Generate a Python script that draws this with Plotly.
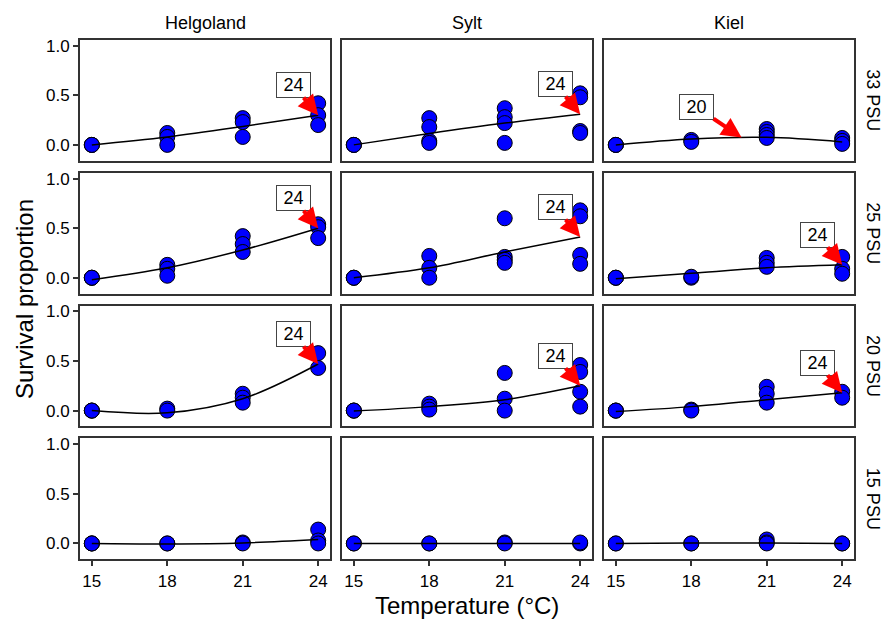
import plotly.graph_objects as go
from plotly.subplots import make_subplots

temps = [15, 18, 21, 24]
sites = ["Helgoland", "Sylt", "Kiel"]
salinities = ["33 PSU", "25 PSU", "20 PSU", "15 PSU"]

# observed survival proportions; one inner list per temperature (15, 18, 21, 24 °C)
helgoland_33 = [[0.0, 0.0, 0.0], [0.12, 0.08, 0.0], [0.27, 0.23, 0.08], [0.42, 0.30, 0.20]]
sylt_33 = [[0.0, 0.0, 0.0], [0.27, 0.18, 0.04, 0.02], [0.37, 0.28, 0.22, 0.02], [0.52, 0.48, 0.14, 0.12]]
kiel_33 = [[0.0, 0.0, 0.0], [0.05, 0.03], [0.16, 0.13, 0.10, 0.07], [0.07, 0.04, 0.01]]
helgoland_25 = [[0.0, 0.0, 0.0], [0.13, 0.09, 0.02], [0.42, 0.34, 0.26], [0.54, 0.51, 0.40]]
sylt_25 = [[0.0, 0.0, 0.0], [0.22, 0.10, 0.0], [0.60, 0.21, 0.18, 0.15], [0.68, 0.62, 0.23, 0.14]]
kiel_25 = [[0.0, 0.0, 0.0], [0.0, 0.01], [0.20, 0.15, 0.11], [0.21, 0.09, 0.04]]
helgoland_20 = [[0.0, 0.0, 0.0], [0.02, 0.0], [0.17, 0.13, 0.08], [0.58, 0.43]]
sylt_20 = [[0.0, 0.0, 0.0], [0.07, 0.04, 0.01], [0.38, 0.12, 0.0], [0.46, 0.39, 0.19, 0.04]]
kiel_20 = [[0.0, 0.0, 0.0], [0.01, 0.0], [0.24, 0.17, 0.08], [0.19, 0.13]]
helgoland_15 = [[0.0, 0.0, 0.0], [0.0, 0.0], [0.01, 0.0], [0.14, 0.03, 0.0]]
sylt_15 = [[0.0, 0.0], [0.0, 0.0], [0.01, 0.0], [0.0, 0.01]]
kiel_15 = [[0.0, 0.0], [0.0, 0.0], [0.04, 0.01, 0.0], [0.0, 0.0]]

# fitted curve values at 15, 18, 21, 24 °C
fit_helgoland_33 = [0.0, 0.08, 0.185, 0.30]
fit_sylt_33 = [0.0, 0.115, 0.22, 0.31]
fit_kiel_33 = [0.0, 0.06, 0.076, 0.03]
fit_helgoland_25 = [-0.02, 0.10, 0.28, 0.50]
fit_sylt_25 = [0.0, 0.10, 0.26, 0.41]
fit_kiel_25 = [-0.01, 0.045, 0.10, 0.13]
fit_helgoland_20 = [0.0, -0.022, 0.12, 0.47]
fit_sylt_20 = [-0.005, 0.04, 0.11, 0.25]
fit_kiel_20 = [-0.01, 0.04, 0.11, 0.18]
fit_helgoland_15 = [0.0, -0.005, 0.005, 0.04]
fit_sylt_15 = [0.0, 0.0, 0.0, 0.0]
fit_kiel_15 = [0.0, 0.005, 0.005, 0.0]

# optimum temperature labels (temperature, curve value); None = no label
opt_33 = [(24, 0.30), (24, 0.31), (20, 0.075)]
opt_25 = [(24, 0.50), (24, 0.41), (24, 0.13)]
opt_20 = [(24, 0.47), (24, 0.25), (24, 0.18)]
opt_15 = [None, None, None]

obs = [[helgoland_33, sylt_33, kiel_33],
       [helgoland_25, sylt_25, kiel_25],
       [helgoland_20, sylt_20, kiel_20],
       [helgoland_15, sylt_15, kiel_15]]
fits = [[fit_helgoland_33, fit_sylt_33, fit_kiel_33],
        [fit_helgoland_25, fit_sylt_25, fit_kiel_25],
        [fit_helgoland_20, fit_sylt_20, fit_kiel_20],
        [fit_helgoland_15, fit_sylt_15, fit_kiel_15]]
opts = [opt_33, opt_25, opt_20, opt_15]

W, H = 884, 623
fig = make_subplots(rows=4, cols=3)

col_px = [(80, 330), (342, 592), (604, 854)]
row_px = [(37, 158.5), (170.5, 292), (304, 425.5), (437.5, 559)]
FONT = "Liberation Sans, Arial, sans-serif"

annotations = []
for r in range(4):
    for c in range(3):
        xs, ys = [], []
        for t, vals in zip(temps, obs[r][c]):
            xs += [t] * len(vals)
            ys += vals
        fig.add_trace(go.Scatter(x=xs, y=ys, mode="markers",
                                 marker=dict(size=15, color="#0000FF",
                                             line=dict(color="black", width=1)),
                                 showlegend=False, hoverinfo="skip"),
                      row=r + 1, col=c + 1)
        fig.add_trace(go.Scatter(x=temps, y=fits[r][c], mode="lines",
                                 line=dict(color="black", width=1.5, shape="spline", smoothing=1.0),
                                 showlegend=False, hoverinfo="skip"),
                      row=r + 1, col=c + 1)
        k = r * 3 + c + 1
        xname = "x" if k == 1 else f"x{k}"
        yname = "y" if k == 1 else f"y{k}"
        if opts[r][c] is not None:
            t, v = opts[r][c]
            annotations.append(dict(
                x=t, y=v, xref=xname, yref=yname, text=str(t),
                showarrow=True, ax=-45 if t == 20 else -25, ay=-30,
                arrowcolor="#FF0000", arrowwidth=4, arrowhead=2, arrowsize=1.0,
                width=31, height=22,
                bgcolor="white", bordercolor="#444", borderwidth=1, borderpad=1,
                font=dict(size=18, color="black", family=FONT)))
        xa = "xaxis" if k == 1 else f"xaxis{k}"
        ya = "yaxis" if k == 1 else f"yaxis{k}"
        x0, x1 = col_px[c]
        y0, y1 = row_px[r]
        fig.layout[xa].update(
            domain=[x0 / W, x1 / W], range=[14.53, 24.47],
            tickvals=temps, showticklabels=(r == 3), ticks="outside" if r == 3 else "",
            ticklen=5, tickwidth=1.5, tickcolor="#333",
            showline=True, mirror=True, linecolor="#333", linewidth=2,
            showgrid=False, zeroline=False,
            tickfont=dict(size=17, color="black", family=FONT))
        fig.layout[ya].update(
            domain=[1 - y1 / H, 1 - y0 / H], range=[-0.16, 1.06],
            tickvals=[0, 0.5, 1.0], tickformat=".1f",
            showticklabels=(c == 0), ticks="outside" if c == 0 else "",
            ticklen=5, tickwidth=1.5, tickcolor="#333",
            showline=True, mirror=True, linecolor="#333", linewidth=2,
            showgrid=False, zeroline=False,
            tickfont=dict(size=17, color="black", family=FONT))

for c, name in enumerate(sites):
    x0, x1 = col_px[c]
    annotations.append(dict(x=(x0 + x1) / 2 / W, y=1 - 20 / H, xref="paper", yref="paper",
                            xanchor="center", yanchor="middle",
                            text=name, showarrow=False,
                            font=dict(size=18, color="black", family=FONT)))
for r, name in enumerate(salinities):
    y0, y1 = row_px[r]
    annotations.append(dict(x=873 / W, y=1 - (y0 + y1) / 2 / H, xref="paper", yref="paper",
                            xanchor="center", yanchor="middle",
                            text=name, showarrow=False, textangle=90,
                            font=dict(size=18, color="black", family=FONT)))

annotations.append(dict(x=24 / W, y=1 - 297.5 / H, xref="paper", yref="paper",
                        xanchor="center", yanchor="middle",
                        text="Survival proportion", showarrow=False, textangle=-90,
                        font=dict(size=24, color="black", family=FONT)))
annotations.append(dict(x=467 / W, y=1 - 605 / H, xref="paper", yref="paper",
                        xanchor="center", yanchor="middle",
                        text="Temperature (°C)", showarrow=False,
                        font=dict(size=24, color="black", family=FONT)))

fig.update_layout(width=W, height=H, margin=dict(l=0, r=0, t=0, b=0),
                  plot_bgcolor="white", paper_bgcolor="white",
                  annotations=annotations, font=dict(family=FONT))

fig.write_html("out.html", config={"displayModeBar": False},
               post_script="document.body.style.margin='0';document.body.style.overflow='hidden';")
